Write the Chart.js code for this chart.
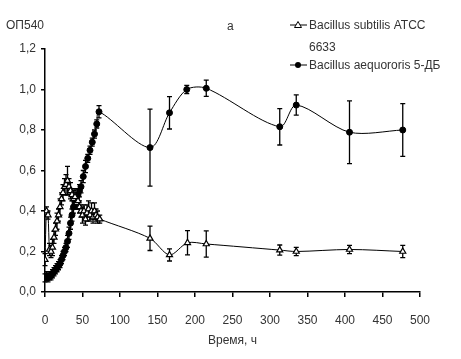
<!DOCTYPE html>
<html>
<head>
<meta charset="utf-8">
<script src="https://cdn.jsdelivr.net/npm/chart.js@4/dist/chart.umd.min.js"></script>
<style>
  html, body { margin: 0; padding: 0; background: #fff; }
  #wrap { position: relative; width: 461px; height: 359px; }
</style>
</head>
<body>
<div id="wrap"><canvas id="c" width="461" height="359"></canvas></div>
<script>
// ---- Data ----
const seriesNames = ['Bacillus subtilis ATCC 6633', 'Bacillus aequororis 5-ДБ'];

const subtilisTime = [0, 2, 4, 6, 8, 10, 12, 14, 16, 18, 20, 22, 24, 26, 28, 30, 32, 34, 36, 38, 40, 42, 44, 46, 48, 50, 52, 54, 56, 58, 60, 62, 64, 66, 68, 70, 73, 140, 166, 190, 215, 313, 335, 406, 477];
const subtilisOD = [0.16, 0.40, 0.38, 0.21, 0.20, 0.22, 0.27, 0.31, 0.35, 0.38, 0.42, 0.46, 0.49, 0.52, 0.53, 0.55, 0.52, 0.50, 0.48, 0.46, 0.47, 0.44, 0.45, 0.42, 0.40, 0.38, 0.40, 0.36, 0.39, 0.41, 0.38, 0.40, 0.37, 0.40, 0.38, 0.37, 0.36, 0.265, 0.183, 0.243, 0.237, 0.207, 0.200, 0.210, 0.200];
const subtilisErr = [0.03, 0.02, 0.02, 0.03, 0.03, 0.04, 0.03, 0.03, 0.04, 0.03, 0.04, 0.03, 0.04, 0.04, 0.05, 0.07, 0.04, 0.04, 0.03, 0.04, 0.04, 0.03, 0.04, 0.03, 0.03, 0.04, 0.03, 0.03, 0.04, 0.04, 0.03, 0.04, 0.03, 0.04, 0.03, 0.03, 0.02, 0.06, 0.03, 0.06, 0.065, 0.025, 0.02, 0.02, 0.03];

const aequororisTime = [0, 2, 4, 6, 8, 10, 12, 14, 16, 18, 20, 22, 24, 26, 28, 30, 32, 34, 36, 38, 40, 42, 44, 46, 48, 51, 54, 57, 60, 63, 66, 69, 72, 140, 166, 189, 215, 313, 335, 406, 477];
const aequororisOD = [0.07, 0.08, 0.07, 0.08, 0.08, 0.09, 0.10, 0.11, 0.12, 0.13, 0.14, 0.16, 0.18, 0.20, 0.22, 0.25, 0.29, 0.34, 0.38, 0.42, 0.44, 0.46, 0.48, 0.50, 0.52, 0.57, 0.62, 0.66, 0.70, 0.74, 0.78, 0.83, 0.89, 0.713, 0.885, 1.00, 1.006, 0.816, 0.923, 0.789, 0.80];
const aequororisErr = [0.02, 0.02, 0.02, 0.02, 0.02, 0.02, 0.02, 0.02, 0.02, 0.02, 0.02, 0.02, 0.02, 0.02, 0.02, 0.03, 0.03, 0.03, 0.03, 0.03, 0.03, 0.03, 0.03, 0.03, 0.03, 0.03, 0.03, 0.02, 0.02, 0.02, 0.02, 0.02, 0.03, 0.19, 0.08, 0.02, 0.04, 0.09, 0.05, 0.155, 0.13];

const xTickLabels = ['0', '50', '100', '150', '200', '250', '300', '350', '400', '450', '500'];
const yTickLabels = ['0,0', '0,2', '0,4', '0,6', '0,8', '1,0', '1,2'];
const yAxisTitle = 'ОП540';
const xAxisTitle = 'Время, ч';
const panelLabel = 'а';

// ---- Build chart ----
const FONT = '"Liberation Sans", Arial, sans-serif';
const TXT = '#333';

function pts(t, v) { return t.map((x, i) => ({ x: x, y: v[i] })); }

const errorBars = {
  id: 'errorBars',
  beforeDatasetsDraw(chart) {
    const ctx = chart.ctx;
    const xs = chart.scales.x, ys = chart.scales.y;
    ctx.save();
    ctx.strokeStyle = '#000';
    ctx.lineWidth = 1.3;
    chart.data.datasets.forEach(ds => {
      ds.data.forEach((p, i) => {
        const e = ds.errors[i];
        if (!e) return;
        const x = xs.getPixelForValue(p.x);
        const y1 = ys.getPixelForValue(p.y + e);
        const y2 = ys.getPixelForValue(p.y - e);
        ctx.beginPath();
        ctx.moveTo(x, y1); ctx.lineTo(x, y2);
        ctx.moveTo(x - 2.5, y1); ctx.lineTo(x + 2.5, y1);
        ctx.moveTo(x - 2.5, y2); ctx.lineTo(x + 2.5, y2);
        ctx.stroke();
      });
    });
    ctx.restore();
  }
};

const extras = {
  id: 'extras',
  afterDraw(chart) {
    const ctx = chart.ctx;
    ctx.save();
    ctx.fillStyle = TXT;
    ctx.font = '12px ' + FONT;
    ctx.textBaseline = 'middle';
    ctx.textAlign = 'left';
    ctx.fillText(yAxisTitle, 6, 26);
    ctx.fillText(panelLabel, 227, 27);

    // legend
    const lx1 = 290, lx2 = 307, mx = 298;
    ctx.strokeStyle = '#000';
    ctx.lineWidth = 1;
    ctx.beginPath(); ctx.moveTo(lx1, 25); ctx.lineTo(lx2, 25); ctx.stroke();
    ctx.beginPath();
    ctx.moveTo(mx, 21.5); ctx.lineTo(mx + 3.5, 27.5); ctx.lineTo(mx - 3.5, 27.5); ctx.closePath();
    ctx.fillStyle = '#fff'; ctx.fill(); ctx.stroke();
    ctx.beginPath(); ctx.moveTo(lx1, 65); ctx.lineTo(lx2, 65); ctx.stroke();
    ctx.beginPath(); ctx.arc(mx, 65, 3, 0, Math.PI * 2);
    ctx.fillStyle = '#000'; ctx.fill();

    ctx.fillStyle = TXT;
    ctx.fillText('Bacillus subtilis ATCC', 309, 26);
    ctx.fillText('6633', 309, 48);
    ctx.fillText(seriesNames[1], 309, 66);
    ctx.restore();
  }
};

new Chart(document.getElementById('c'), {
  type: 'line',
  data: {
    datasets: [
      {
        label: seriesNames[0],
        data: pts(subtilisTime, subtilisOD),
        errors: subtilisErr,
        borderColor: '#000',
        borderWidth: 1,
        tension: 0.3,
        pointStyle: 'triangle',
        pointRadius: 3.5,
        pointBackgroundColor: '#fff',
        pointBorderColor: '#000',
        pointBorderWidth: 1.2
      },
      {
        label: seriesNames[1],
        data: pts(aequororisTime, aequororisOD),
        errors: aequororisErr,
        borderColor: '#000',
        borderWidth: 1,
        tension: 0.3,
        pointStyle: 'circle',
        pointRadius: 3,
        pointBackgroundColor: '#000',
        pointBorderColor: '#000',
        pointBorderWidth: 1
      }
    ]
  },
  options: {
    responsive: false,
    animation: false,
    layout: { padding: { left: 0, right: 41, top: 49, bottom: 0 } },
    plugins: { legend: { display: false }, tooltip: { enabled: false } },
    scales: {
      x: {
        type: 'linear',
        min: 0, max: 500,
        afterFit(s) { s.height = 67; },
        afterBuildTicks(s) { s.ticks = xTickLabels.map(t => ({ value: Number(t) })); },
        ticks: {
          callback: (v, i) => xTickLabels[i],
          color: TXT, font: { family: FONT, size: 12 },
          padding: 16, maxRotation: 0, autoSkip: false
        },
        grid: { drawOnChartArea: false, drawTicks: true, tickLength: 5, color: '#000', lineWidth: 1.5 },
        border: { display: true, color: '#000', width: 1.5 },
        title: { display: true, text: xAxisTitle, color: TXT, font: { family: FONT, size: 12 }, padding: { top: 0, bottom: 11 } }
      },
      y: {
        type: 'linear',
        min: 0, max: 1.2,
        afterFit(s) { s.width = 45; },
        afterBuildTicks(s) { s.ticks = yTickLabels.map((t, i) => ({ value: i * 0.2 })); },
        ticks: {
          callback: (v, i) => yTickLabels[i],
          color: TXT, font: { family: FONT, size: 12 },
          padding: 5, autoSkip: false
        },
        grid: { drawOnChartArea: false, drawTicks: true, tickLength: 4, color: '#000', lineWidth: 1.5 },
        border: { display: true, color: '#000', width: 1.5 }
      }
    }
  },
  plugins: [errorBars, extras]
});
</script>
</body>
</html>
